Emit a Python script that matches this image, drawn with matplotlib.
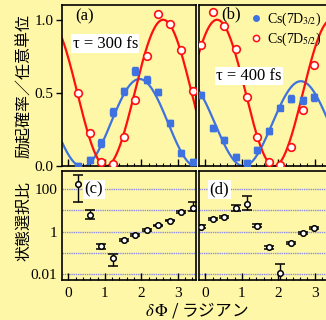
# coding: utf-8
"""
Cs 7D3/2, 7D5/2 励起確率と状態選択比のグラフ
"""

import numpy as np
import matplotlib
matplotlib.use('Agg')
import matplotlib.pyplot as plt
from matplotlib.ticker import MultipleLocator, FixedLocator, NullFormatter, NullLocator

plt.rcParams['font.family'] = ['Liberation Serif', 'DejaVu Serif']
plt.rcParams['mathtext.fontset'] = 'stix'

# (a)(c) tau = 300 fs
phase_a = [0.27, 0.58, 0.90, 1.21, 1.52, 1.84, 2.15, 2.47, 2.78, 3.10, 3.41]
d32_a = [0.0, 0.04, 0.157, 0.37, 0.51, 0.65, 0.59, 0.505, 0.295, 0.09, 0.03]
d52_a = [0.50, 0.225, 0.03, 0.016, 0.20, 0.45, 0.75, 1.04, 0.97, 0.79, 0.51]
d32_a_err = [0.02, 0.02, 0.025, 0.025, 0.025, 0.025, 0.025, 0.02, 0.02, 0.02, 0.02]
ratio_a = [178, 6.1, 0.21, 0.055, 0.40, 0.72, 1.24, 2.0, 3.3, 8.5, 12.6]
ratio_a_lo = [24.5, 3.8, 0.148, 0.024, 0.36, 0.65, 1.12, 1.85, 3.0, 7.4, 9.5]
ratio_a_hi = [468, 10.5, 0.263, 0.083, 0.45, 0.80, 1.38, 2.15, 3.7, 9.8, 26.0]

# (b)(d) tau = 400 fs
phase_b = [-0.12, 0.20, 0.51, 0.83, 1.13, 1.43, 1.74, 2.04, 2.36, 2.67, 2.97]
d32_b = [0.485, 0.26, 0.18, 0.064, 0.023, 0.11, 0.237, 0.40, 0.46, 0.45, 0.47]
d52_b = [0.83, 1.05, 0.96, 0.80, 0.47, 0.20, 0.03, 0.005, 0.133, 0.384, 0.694]
d32_b_err = [0.02, 0.02, 0.02, 0.02, 0.02, 0.02, 0.02, 0.02, 0.025, 0.025, 0.025]
ratio_b = [1.7, 4.1, 5.1, 12.7, 19.6, 1.9, 0.18, 0.011, 0.29, 0.9, 1.5]
ratio_b_lo = [1.5, 3.7, 4.6, 9.5, 10.5, 1.6, 0.15, 0.003, 0.26, 0.8, 1.35]
ratio_b_hi = [1.95, 4.5, 5.6, 18.0, 50.0, 2.2, 0.21, 0.028, 0.33, 1.0, 1.65]

# フィット曲線 (offset, amplitude, 極大位置, 周期)
fit_d32_a = (0.295, 0.30, 1.95, np.pi)
fit_d52_a = (0.50, 0.50, 2.60, np.pi)
fit_d32_b = (0.29, 0.29, 2.62, np.pi)
fit_d52_b = (0.50, 0.50, 0.32, np.pi)

BG = '#fff7a8'
BLUE = '#3d72e0'
RED = '#ff1010'
GRID = '#8c8ce6'
XLIM = (-0.18, 3.5)


def fit_curve(params):
    off, amp, xmax, period = params
    x = np.linspace(XLIM[0], XLIM[1], 300)
    return x, off + amp * np.cos(2 * np.pi / period * (x - xmax))


def setup_xaxis(ax, labels):
    ax.set_xlim(*XLIM)
    ax.xaxis.set_major_locator(MultipleLocator(1))
    ax.xaxis.set_minor_locator(MultipleLocator(0.2))
    ax.tick_params(axis='x', which='major', direction='in', length=5, width=1, labelsize=11, pad=5)
    ax.tick_params(axis='x', which='minor', direction='in', length=2.5, width=0.8)
    if not labels:
        ax.xaxis.set_major_formatter(NullFormatter())
    for s in ax.spines.values():
        s.set_linewidth(1.2)
    ax.set_facecolor('none')


def draw_prob(ax, phase, d32, d32_err, d52, fit32, fit52):
    x, y = fit_curve(fit32)
    ax.plot(x, y, color=BLUE, lw=1.6, zorder=2)
    x, y = fit_curve(fit52)
    ax.plot(x, y, color=RED, lw=1.6, zorder=2)
    ax.errorbar(phase, d32, yerr=d32_err, fmt='s', color=BLUE, ms=5, capsize=2,
                elinewidth=1, zorder=3)
    ax.plot(phase, d52, 'o', mfc='white', mec=RED, mew=1.2, ms=5.5, zorder=4)
    ax.set_ylim(0, 1.1)
    setup_xaxis(ax, False)


def draw_ratio(ax, phase, ratio, lo, hi):
    ratio = np.array(ratio)
    yerr = [ratio - np.array(lo), np.array(hi) - ratio]
    ax.errorbar(phase, ratio, yerr=yerr, fmt='o', color='black', mfc='white', mec='black',
                ms=4, mew=1.1, capsize=3.5, elinewidth=1, capthick=1, zorder=3)
    ax.set_yscale('log')
    ax.set_ylim(0.0052, 730)
    ax.yaxis.set_major_locator(FixedLocator([0.01, 1, 100]))
    ax.yaxis.set_minor_locator(NullLocator())
    for v in [0.01, 0.1, 1, 10, 100]:
        ax.axhline(v, color=GRID, lw=1, ls=(0, (1, 0.6)), zorder=1)
    ax.tick_params(axis='y', length=0, labelsize=11)
    setup_xaxis(ax, True)


fig = plt.figure(figsize=(3.26, 3.20), dpi=100, facecolor=BG)

ax_a = fig.add_axes([0.190, 0.481, 0.411, 0.503])
ax_b = fig.add_axes([0.610, 0.481, 0.411, 0.503])
ax_c = fig.add_axes([0.190, 0.125, 0.411, 0.341])
ax_d = fig.add_axes([0.610, 0.125, 0.411, 0.341])

draw_prob(ax_a, phase_a, d32_a, d32_a_err, d52_a, fit_d32_a, fit_d52_a)
draw_prob(ax_b, phase_b, d32_b, d32_b_err, d52_b, fit_d32_b, fit_d52_b)
ax_a.yaxis.set_major_locator(FixedLocator([0, 0.5, 1.0]))
ax_a.set_yticklabels(['0.0', '0.5', '1.0'])
ax_a.tick_params(axis='y', direction='out', length=4, width=1, labelsize=11, pad=2)
ax_b.yaxis.set_major_locator(NullLocator())

draw_ratio(ax_c, phase_a, ratio_a, ratio_a_lo, ratio_a_hi)
draw_ratio(ax_d, phase_b, ratio_b, ratio_b_lo, ratio_b_hi)
ax_c.set_yticklabels(['0.01', '1', '100'])
ax_d.yaxis.set_major_formatter(NullFormatter())

# パネルラベル
box = dict(facecolor='white', edgecolor='none', pad=1)
ax_a.text(0.10, 0.93, '(a)', transform=ax_a.transAxes, fontsize=12, va='center')
ax_b.text(0.17, 0.94, '(b)', transform=ax_b.transAxes, fontsize=12, va='center')
ax_a.text(0.08, 0.76, r'τ = 300 fs', transform=ax_a.transAxes, fontsize=12, va='center', bbox=box)
ax_b.text(0.13, 0.56, r'τ = 400 fs', transform=ax_b.transAxes, fontsize=12, va='center', bbox=box)
ax_c.text(0.17, 0.83, '(c)', transform=ax_c.transAxes, fontsize=12, va='center', bbox=box)
ax_d.text(0.08, 0.83, '(d)', transform=ax_d.transAxes, fontsize=12, va='center', bbox=box)

# 凡例
h1, = ax_b.plot([], [], 'o', color=BLUE, ms=4)
h2, = ax_b.plot([], [], 'o', mfc='white', mec=RED, mew=1.1, ms=4.5)
ax_b.legend([h1, h2], [r'Cs(7D$_{3/2}$)', r'Cs(7D$_{5/2}$)'], loc='upper left',
            bbox_to_anchor=(0.34, 0.99), frameon=False, fontsize=10,
            handlelength=1.0, handletextpad=0.3, labelspacing=0.15, borderpad=0.3,
            borderaxespad=0)

# 軸ラベル
cjk = ['Noto Sans CJK JP', 'DejaVu Sans']
fig.text(0.074, 0.731, '励起確率／任意単位', rotation=90, ha='center', va='center',
         fontsize=11.5, family=cjk)
fig.text(0.074, 0.309, '状態選択比', rotation=90, ha='center', va='center',
         fontsize=11.5, family=cjk)
fig.text(0.605, 0.031, r'$\delta\,\mathit{\Phi}$ / ラジアン', ha='center', va='center',
         fontsize=12, family=cjk)

fig.savefig('out.png', dpi=100, facecolor=BG)
